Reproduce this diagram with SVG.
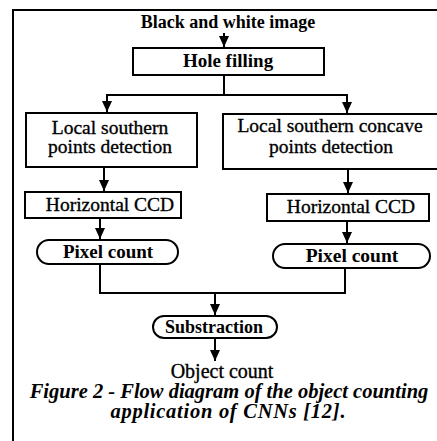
<svg xmlns="http://www.w3.org/2000/svg" width="437" height="441" viewBox="0 0 437 441">
  <style>
    .box { fill: #fff; stroke: #000; stroke-width: 2; }
    .edge { fill: none; stroke: #000; stroke-width: 2; }
    .t { font-family: "Liberation Serif", "Times New Roman", serif; fill: #000; text-anchor: middle; }
    .b { font-weight: bold; }
    .r { font-weight: normal; stroke: #000; stroke-width: 0.35; }
    .cap { font-weight: bold; font-style: italic; }
  </style>
  <defs>
    <marker id="arrow" markerUnits="userSpaceOnUse" markerWidth="12" markerHeight="12" viewBox="0 0 12 12" refX="11" refY="6" orient="auto">
      <path d="M0,1 L11,6 L0,11 Z" fill="#000"/>
    </marker>
  </defs>
  <rect width="437" height="441" fill="#fff"/>

  <!-- page frame -->
  <path class="edge" d="M13,441 V10 H440"/>

  <g id="input">
    <text class="t b" x="228" y="28" font-size="18">Black and white image</text>
  </g>

  <g id="hole-filling">
    <rect class="box" x="133" y="48" width="191" height="27"/>
    <text class="t b" x="228" y="67" font-size="19">Hole filling</text>
  </g>

  <g id="southern-points">
    <rect class="box" x="26" y="113" width="171" height="54"/>
    <text class="t r" x="110" y="134" font-size="19.5">Local southern</text>
    <text class="t r" x="110" y="153" font-size="19.5">points detection</text>
  </g>

  <g id="concave-points">
    <rect class="box" x="223" y="114" width="220" height="55"/>
    <text class="t r" x="330" y="132" font-size="19.5">Local southern concave</text>
    <text class="t r" x="331" y="153" font-size="19.5">points detection</text>
  </g>

  <g id="ccd-left">
    <rect class="box" x="25" y="192" width="156" height="26"/>
    <text class="t r" x="110" y="211" font-size="19.5">Horizontal CCD</text>
  </g>

  <g id="ccd-right">
    <rect class="box" x="267" y="194" width="162" height="27"/>
    <text class="t r" x="351" y="213" font-size="19.5">Horizontal CCD</text>
  </g>

  <g id="pixel-left">
    <rect class="box" x="37" y="240" width="141" height="24" rx="12"/>
    <text class="t b" x="108" y="258" font-size="19">Pixel count</text>
  </g>

  <g id="pixel-right">
    <rect class="box" x="273" y="244" width="157" height="24" rx="12"/>
    <text class="t b" x="352" y="262" font-size="19.5">Pixel count</text>
  </g>

  <g id="substraction">
    <rect class="box" x="153" y="316" width="124" height="22" rx="11"/>
    <text class="t b" x="214" y="333" font-size="18">Substraction</text>
  </g>

  <g id="output">
    <text class="t r" x="222" y="378" font-size="20">Object count</text>
  </g>

  <g id="connectors">
    <path class="edge" d="M224,33 V47" marker-end="url(#arrow)"/>
    <path class="edge" d="M224,75 V95 H107 V112" marker-end="url(#arrow)"/>
    <path class="edge" d="M224,95 H347 V113" marker-end="url(#arrow)"/>
    <path class="edge" d="M104,167 V191" marker-end="url(#arrow)"/>
    <path class="edge" d="M348,169 V193" marker-end="url(#arrow)"/>
    <path class="edge" d="M100,218 V239" marker-end="url(#arrow)"/>
    <path class="edge" d="M347,221 V243" marker-end="url(#arrow)"/>
    <path class="edge" d="M100,264 V293 H345 V268"/>
    <path class="edge" d="M215,293 V315" marker-end="url(#arrow)"/>
    <path class="edge" d="M215,338 V361" marker-end="url(#arrow)"/>
  </g>

  <g id="caption">
    <text class="t cap" x="229" y="398" font-size="20.5">Figure 2 - Flow diagram of the object counting</text>
    <text class="t cap" x="228" y="418" font-size="20.5" textLength="235">application of CNNs [12].</text>
  </g>
</svg>
